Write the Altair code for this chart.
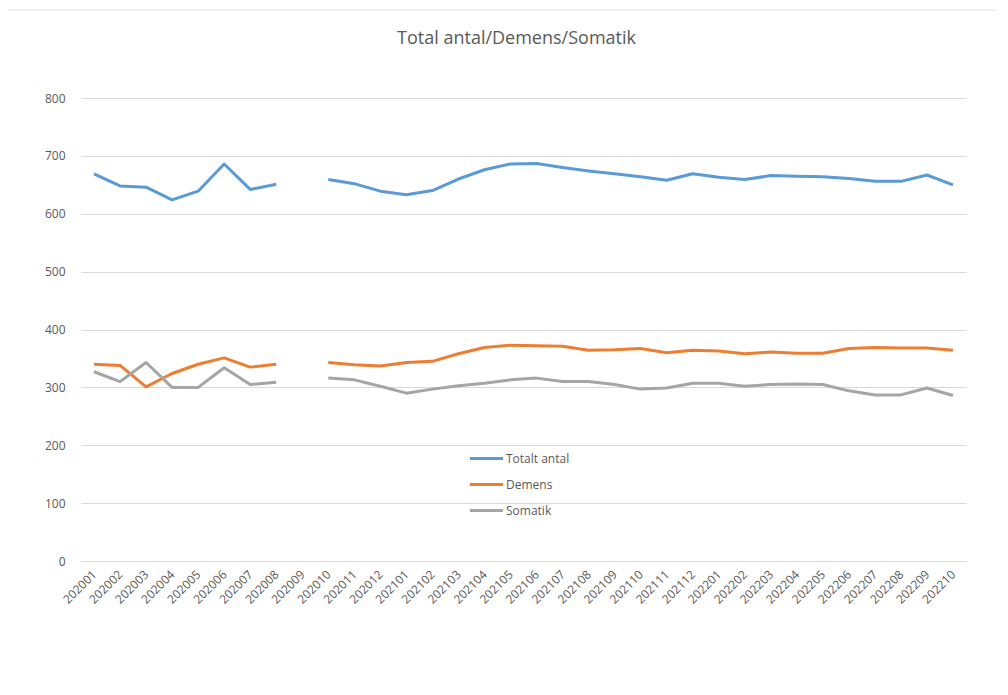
import altair as alt
import pandas as pd

months = ["202001","202002","202003","202004","202005","202006","202007","202008","202009","202010","202011","202012",
          "202101","202102","202103","202104","202105","202106","202107","202108","202109","202110","202111","202112",
          "202201","202202","202203","202204","202205","202206","202207","202208","202209","202210"]

totalt = [669, 648, 646, 624, 639, 686, 642, 651, None, 659, 652, 639,
          633, 640, 660, 676, 686, 687, 680, 674, 669, 664, 658, 669,
          663, 659, 666, 665, 664, 661, 656, 656, 667, 650]
demens = [340, 338, 301, 324, 340, 351, 335, 340, None, 343, 339, 337,
          343, 345, 358, 369, 373, 372, 371, 364, 365, 367, 360, 364,
          363, 358, 361, 359, 359, 367, 369, 368, 368, 364]
somatik = [327, 310, 343, 300, 300, 334, 305, 309, None, 316, 313, 302,
           290, 297, 303, 307, 313, 316, 310, 310, 305, 297, 299, 307,
           307, 302, 305, 306, 305, 294, 287, 287, 299, 286]

series_names = ["Totalt antal", "Demens", "Somatik"]
series_vals = [totalt, demens, somatik]
colors = ["#5B9BD5", "#ED7D31", "#A5A5A5"]

rows = []
for name, vals in zip(series_names, series_vals):
    seg = 0
    for m, v in zip(months, vals):
        if v is None:
            seg += 1
            continue
        rows.append({"month": m, "value": v, "series": name, "seg": f"{name}-{seg}"})
df = pd.DataFrame(rows)

font = "Open Sans"
txt = "#595959"

lines = alt.Chart(df).mark_line(strokeWidth=3, strokeJoin="round").encode(
    x=alt.X("month:O", scale=alt.Scale(domain=months, type="point", padding=0.5),
            axis=alt.Axis(title=None, labelAngle=-45, labelAlign="right", labelBaseline="middle",
                          ticks=False, domain=False, labelPadding=11, labelFontSize=12,
                          labelColor=txt, labelFont=font, grid=False)),
    y=alt.Y("value:Q", scale=alt.Scale(domain=[0, 800], nice=False),
            axis=alt.Axis(title=None, values=[0,100,200,300,400,500,600,700,800], ticks=False,
                          domain=False, labelPadding=16, labelFontSize=12, labelColor=txt,
                          labelFont=font, gridColor="#d9d9d9", gridWidth=1)),
    color=alt.Color("series:N", scale=alt.Scale(domain=series_names, range=colors),
                    legend=alt.Legend(title=None, orient="none", legendX=387, legendY=342,
                                      symbolType="stroke", symbolStrokeWidth=3, symbolSize=1100,
                                      labelFontSize=12, labelColor=txt, labelFont=font,
                                      rowPadding=1, labelOffset=1)),
    detail="seg:N",
)

# faint chart-area border (left and top edges), decoration only
border_left = alt.Chart().mark_rule(color="#e3e3e3", strokeWidth=1).encode(
    x=alt.value(-74), y=alt.value(-88), y2=alt.value(560))
border_top = alt.Chart().mark_rule(color="#e3e3e3", strokeWidth=1).encode(
    x=alt.value(-74), x2=alt.value(915), y=alt.value(-88))

chart = alt.layer(border_left, border_top, lines).properties(
    width=885, height=463,
    title=alt.TitleParams("Total antal/Demens/Somatik", fontSize=18, font=font, color=txt,
                          fontWeight="normal", anchor="middle", offset=-38, dx=-7),
    autosize=alt.AutoSizeParams(type="none"),
    padding={"left": 73, "top": 90, "right": 30, "bottom": 90},
).configure_view(stroke=None)

chart.save("out.html", embed_options={"renderer": "svg", "actions": False})
